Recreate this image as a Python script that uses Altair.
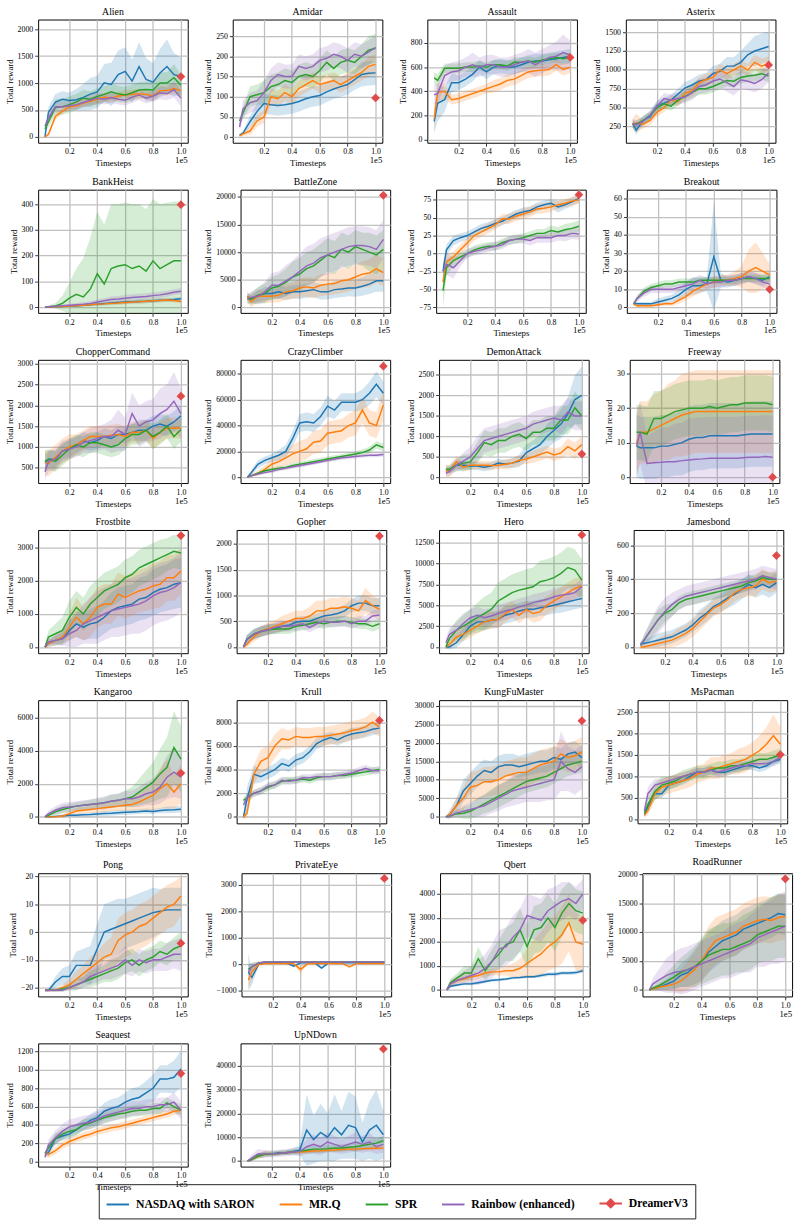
import math
import altair as alt
import pandas as pd

# ---------------- data ----------------
X = [0.025, 0.05, 0.1, 0.15, 0.2, 0.25, 0.3, 0.35, 0.4, 0.45, 0.5,
     0.55, 0.6, 0.65, 0.7, 0.75, 0.8, 0.85, 0.9, 0.95, 1.0]

GAMES = ["Alien", "Amidar", "Assault", "Asterix", "BankHeist", "BattleZone", "Boxing",
         "Breakout", "ChopperCommand", "CrazyClimber", "DemonAttack", "Freeway",
         "Frostbite", "Gopher", "Hero", "Jamesbond", "Kangaroo", "Krull",
         "KungFuMaster", "MsPacman", "Pong", "PrivateEye", "Qbert", "RoadRunner",
         "Seaquest", "UpNDown"]

METHODS = ["NASDAQ with SARON", "MR.Q", "SPR", "Rainbow (enhanced)"]
KEYS = ["nasdaq", "mrq", "spr", "rainbow"]
COLORS = ["#1f77b4", "#ff7f0e", "#2ca02c", "#9467bd"]
DREAMER_NAME = "DreamerV3"
DREAMER_COLOR = "#e04a4a"

DREAMERV3 = [1120, 97, 680, 1065, 398, 20300, 82, 10, 2220, 86000, 570, 0, 3380, 2150,
             13400, 540, 2650, 8150, 25900, 1510, -4, 3250, 2900, 19200, 960, 47000]

Y_LO = [-108, -14, -28, 35, -22, -1018, -83, -3, 129, -4570, -136, -1.7, -190, -121,
        -747, -37, -392, -548, -1750, -91, -23.2, -1224, -274, -1136, -53, -2329]
Y_HI = [2180, 291, 995, 1667, 456, 21320, 89, 65, 3095, 90900, 2867, 34, 3548, 2268,
        13994, 691, 7060, 9863, 31490, 2779, 21.2, 3448, 4863, 20170, 1289, 49315]
Y_STEP = [500, 50, 200, 250, 100, 5000, 25, 10, 500, 20000, 500, 10, 1000, 500,
          2500, 200, 2000, 2000, 5000, 500, 10, 1000, 1000, 5000, 200, 10000]
X_TICKS = [0.2, 0.4, 0.6, 0.8, 1.0]

alien_nasdaq = [0, 460, 645, 700, 675, 690, 735, 795, 837, 1006, 976, 1157, 1217, 1036, 1307, 1066, 1018, 1187, 1307, 1157, 1127]
alien_nasdaq_sd = [20, 100, 150, 150, 150, 200, 250, 300, 300, 350, 400, 450, 450, 400, 450, 400, 350, 450, 500, 400, 350]
alien_mrq = [0, 50, 380, 480, 560, 580, 630, 660, 700, 740, 720, 760, 780, 790, 800, 790, 760, 860, 860, 900, 860]
alien_mrq_sd = [10, 40, 60, 60, 60, 60, 70, 70, 80, 80, 80, 80, 90, 90, 90, 90, 90, 90, 90, 100, 100]
alien_spr = [150, 280, 550, 560, 600, 650, 720, 700, 750, 790, 840, 800, 780, 820, 870, 880, 870, 1000, 1000, 1100, 960]
alien_spr_sd = [50, 100, 150, 150, 150, 150, 150, 150, 150, 150, 150, 150, 150, 150, 150, 150, 150, 200, 200, 250, 200]
alien_rainbow = [200, 350, 560, 560, 580, 600, 640, 680, 720, 700, 730, 700, 680, 740, 780, 720, 760, 820, 800, 880, 720]
alien_rainbow_sd = [50, 80, 100, 100, 100, 100, 100, 100, 100, 100, 100, 100, 100, 100, 100, 100, 100, 120, 120, 150, 150]

amidar_nasdaq = [5, 10, 38, 63, 83, 80, 78, 80, 83, 88, 95, 100, 103, 112, 119, 125, 130, 142, 155, 158, 159]
amidar_nasdaq_sd = [3, 5, 15, 20, 25, 25, 25, 25, 25, 25, 25, 25, 25, 25, 25, 25, 25, 25, 30, 30, 30]
amidar_mrq = [3, 8, 15, 40, 50, 100, 95, 110, 100, 120, 130, 140, 130, 135, 140, 130, 140, 150, 160, 175, 180]
amidar_mrq_sd = [3, 5, 10, 15, 15, 20, 20, 20, 20, 20, 20, 20, 20, 20, 20, 20, 20, 20, 20, 25, 25]
amidar_spr = [40, 60, 100, 105, 110, 125, 130, 140, 135, 150, 155, 150, 165, 185, 170, 185, 190, 185, 200, 215, 220]
amidar_spr_sd = [10, 15, 25, 25, 30, 30, 30, 30, 30, 30, 30, 30, 30, 30, 30, 30, 30, 30, 30, 35, 35]
amidar_rainbow = [25, 70, 85, 90, 110, 140, 155, 150, 150, 175, 170, 175, 190, 195, 205, 200, 190, 205, 200, 210, 222]
amidar_rainbow_sd = [10, 20, 25, 25, 30, 30, 30, 30, 30, 30, 30, 30, 30, 30, 30, 30, 30, 30, 30, 30, 30]

assault_nasdaq = [150, 300, 330, 470, 470, 500, 540, 600, 560, 600, 610, 600, 600, 620, 640, 650, 650, 660, 670, 680, 690]
assault_nasdaq_sd = [100, 150, 100, 80, 60, 60, 60, 60, 60, 60, 60, 60, 60, 60, 60, 60, 60, 60, 60, 60, 60]
assault_mrq = [170, 390, 400, 330, 340, 360, 380, 400, 420, 440, 460, 490, 500, 530, 560, 570, 575, 580, 620, 580, 600]
assault_mrq_sd = [100, 80, 60, 40, 40, 40, 40, 40, 40, 50, 50, 50, 50, 50, 50, 50, 50, 50, 50, 50, 50]
assault_spr = [510, 490, 590, 590, 590, 600, 600, 610, 600, 620, 620, 610, 640, 640, 650, 640, 660, 670, 680, 670, 680]
assault_spr_sd = [50, 50, 40, 40, 40, 40, 40, 40, 40, 40, 40, 40, 40, 40, 40, 40, 40, 40, 40, 40, 40]
assault_rainbow = [370, 380, 530, 560, 570, 600, 620, 600, 620, 620, 600, 600, 620, 640, 650, 620, 650, 680, 690, 720, 700]
assault_rainbow_sd = [80, 80, 80, 80, 80, 80, 100, 80, 80, 80, 80, 80, 80, 80, 100, 100, 100, 100, 120, 150, 120]

asterix_nasdaq = [290, 200, 330, 380, 530, 560, 600, 680, 760, 800, 850, 870, 950, 980, 1050, 1050, 1100, 1200, 1250, 1280, 1310]
asterix_nasdaq_sd = [60, 60, 60, 60, 60, 70, 70, 70, 80, 80, 90, 90, 100, 100, 120, 120, 150, 150, 200, 200, 200]
asterix_mrq = [280, 300, 280, 330, 440, 500, 600, 580, 690, 720, 830, 870, 900, 1000, 950, 1000, 1050, 1000, 1100, 1050, 1080]
asterix_mrq_sd = [80, 120, 60, 60, 60, 60, 60, 60, 70, 70, 70, 80, 80, 80, 80, 80, 80, 80, 100, 100, 100]
asterix_spr = [280, 280, 330, 400, 500, 550, 520, 600, 650, 700, 750, 750, 780, 820, 860, 850, 900, 920, 930, 950, 920]
asterix_spr_sd = [50, 50, 60, 60, 60, 60, 60, 70, 70, 80, 80, 80, 80, 80, 80, 80, 80, 80, 80, 80, 80]
asterix_rainbow = [290, 270, 320, 400, 520, 620, 600, 620, 640, 700, 780, 800, 850, 880, 830, 780, 870, 850, 820, 870, 960]
asterix_rainbow_sd = [60, 60, 60, 60, 70, 70, 80, 80, 80, 100, 100, 100, 120, 120, 120, 120, 120, 120, 120, 120, 120]

bankheist_nasdaq = [0, 1, 2, 3, 5, 6, 8, 10, 12, 14, 16, 18, 20, 21, 22, 23, 25, 27, 28, 30, 33]
bankheist_nasdaq_sd = [1, 1, 2, 3, 3, 4, 5, 5, 6, 6, 6, 7, 7, 7, 8, 8, 8, 8, 8, 8, 8]
bankheist_mrq = [0, 1, 2, 3, 5, 6, 8, 10, 12, 13, 15, 16, 18, 20, 21, 23, 25, 26, 28, 26, 22]
bankheist_mrq_sd = [1, 1, 2, 3, 3, 4, 4, 5, 5, 5, 6, 6, 6, 6, 7, 7, 7, 7, 7, 7, 7]
bankheist_spr = [0, 2, 5, 15, 35, 50, 40, 70, 130, 90, 150, 160, 165, 150, 160, 140, 180, 150, 165, 180, 180]
bankheist_spr_sd = [2, 5, 10, 30, 60, 100, 150, 200, 240, 230, 250, 240, 240, 250, 240, 240, 240, 250, 240, 230, 230]
bankheist_rainbow = [0, 2, 4, 6, 8, 10, 12, 15, 20, 25, 30, 32, 35, 38, 40, 42, 45, 48, 52, 58, 62]
bankheist_rainbow_sd = [1, 2, 3, 4, 5, 6, 7, 8, 10, 10, 12, 12, 12, 12, 12, 12, 12, 12, 12, 12, 12]

battlezone_nasdaq = [2000, 1500, 2000, 2500, 2500, 2800, 2500, 2800, 2800, 3000, 3200, 2800, 2800, 3200, 3300, 3500, 3500, 3800, 4200, 4800, 4800]
battlezone_nasdaq_sd = [500, 800, 1000, 1200, 1200, 1200, 1200, 1200, 1300, 1300, 1400, 1400, 1400, 1500, 1500, 1500, 1600, 1700, 1800, 2000, 2000]
battlezone_mrq = [2000, 1000, 2000, 2000, 2000, 2200, 2800, 3000, 3500, 3700, 3500, 4000, 4200, 4300, 4800, 5000, 5500, 6000, 6200, 7000, 6300]
battlezone_mrq_sd = [1000, 1000, 1200, 1200, 1200, 1300, 1500, 1500, 1700, 1800, 1800, 2000, 2000, 2000, 2200, 2200, 2200, 2400, 2500, 2600, 2500]
battlezone_spr = [1500, 1500, 2200, 2500, 3500, 3800, 4500, 5500, 6000, 7000, 7500, 8500, 9500, 9000, 10500, 10000, 11000, 10500, 10000, 9500, 10500]
battlezone_spr_sd = [800, 1000, 1500, 1800, 2000, 2200, 2500, 2800, 3000, 3000, 3000, 3000, 3000, 3000, 3000, 3000, 3000, 3000, 3500, 3500, 3500]
battlezone_rainbow = [1500, 1800, 2000, 2800, 4000, 4000, 4800, 5500, 6500, 7500, 8000, 9000, 9500, 10000, 10500, 11000, 11200, 11200, 11000, 10500, 12300]
battlezone_rainbow_sd = [800, 1000, 1500, 1800, 2200, 2500, 2800, 3000, 3200, 3500, 3500, 3500, 3500, 3500, 3500, 3500, 3500, 3500, 3500, 3500, 3500]

boxing_nasdaq = [-25, 5, 18, 22, 25, 30, 35, 38, 42, 45, 50, 55, 58, 60, 65, 68, 70, 65, 68, 72, 77]
boxing_nasdaq_sd = [10, 8, 7, 6, 6, 6, 6, 6, 6, 6, 6, 6, 6, 6, 6, 6, 6, 8, 6, 6, 6]
boxing_mrq = [-40, -12, -5, 5, 15, 25, 30, 35, 40, 48, 48, 52, 55, 58, 62, 63, 65, 68, 70, 73, 75]
boxing_mrq_sd = [10, 10, 8, 7, 7, 7, 7, 7, 7, 7, 7, 7, 7, 7, 7, 7, 7, 6, 6, 6, 6]
boxing_spr = [-52, -20, -10, -5, 0, 5, 8, 10, 10, 15, 18, 20, 22, 25, 28, 28, 32, 30, 33, 35, 38]
boxing_spr_sd = [25, 12, 8, 7, 6, 6, 6, 6, 6, 6, 6, 6, 6, 6, 6, 6, 7, 7, 8, 8, 8]
boxing_rainbow = [-25, -15, -20, -10, 0, 3, 5, 8, 10, 12, 18, 20, 20, 18, 22, 22, 22, 25, 25, 28, 27]
boxing_rainbow_sd = [15, 15, 15, 8, 6, 6, 6, 6, 6, 6, 6, 6, 6, 7, 7, 7, 7, 7, 8, 8, 8]

breakout_nasdaq = [2, 2, 2, 2, 3, 4, 5, 7, 10, 12, 12, 13, 28, 15, 14, 15, 16, 17, 16, 15, 17]
breakout_nasdaq_sd = [1, 1, 1, 1, 2, 2, 2, 3, 4, 5, 4, 4, 30, 4, 3, 3, 3, 3, 3, 3, 3]
breakout_mrq = [2, 1, 1, 1, 1.5, 2, 2, 4, 6, 9, 11, 13, 14, 15, 15, 16, 17, 20, 22, 20, 18]
breakout_mrq_sd = [1, 1, 1, 1, 1, 1, 1, 2, 2, 3, 3, 3, 3, 3, 3, 4, 6, 12, 14, 10, 6]
breakout_spr = [2, 5, 9, 11, 12, 13, 13, 14, 14, 14, 15, 15, 15, 15, 15, 15, 16, 16, 16, 16, 16]
breakout_spr_sd = [1, 1, 2, 2, 2, 2, 2, 2, 2, 2, 2, 2, 2, 2, 2, 2, 2, 2, 2, 2, 2]
breakout_rainbow = [2, 5, 8, 10, 10, 10, 10, 11, 12, 13, 15, 13, 14, 14, 15, 15, 16, 17, 16, 14, 13]
breakout_rainbow_sd = [1, 2, 2, 2, 2, 2, 2, 2, 2, 3, 3, 3, 3, 3, 3, 3, 3, 3, 3, 3, 3]

choppercommand_nasdaq = [620, 700, 700, 900, 950, 1050, 1150, 1100, 1150, 1250, 1200, 1300, 1300, 1350, 1400, 1400, 1500, 1550, 1500, 1600, 1750]
choppercommand_nasdaq_sd = [200, 200, 200, 200, 200, 200, 200, 200, 200, 200, 200, 200, 200, 200, 250, 250, 250, 250, 250, 250, 250]
choppercommand_mrq = [620, 600, 750, 900, 1000, 1050, 1150, 1250, 1250, 1250, 1280, 1300, 1250, 1350, 1350, 1400, 1200, 1350, 1450, 1450, 1450]
choppercommand_mrq_sd = [300, 300, 300, 300, 300, 250, 250, 250, 250, 250, 250, 250, 250, 250, 250, 250, 250, 250, 250, 250, 250]
choppercommand_spr = [650, 700, 650, 800, 950, 1050, 1000, 1100, 1100, 1050, 1000, 1050, 1200, 1300, 1300, 1400, 1250, 1350, 1500, 1250, 1420]
choppercommand_spr_sd = [250, 250, 250, 250, 250, 250, 250, 250, 250, 250, 250, 250, 250, 250, 250, 250, 300, 300, 300, 300, 300]
choppercommand_rainbow = [400, 650, 700, 900, 950, 1000, 1100, 1150, 1200, 1250, 1250, 1400, 1300, 1800, 1500, 1600, 1650, 1800, 1900, 2100, 1800]
choppercommand_rainbow_sd = [200, 250, 250, 250, 250, 250, 250, 300, 300, 300, 400, 500, 400, 500, 500, 500, 500, 600, 600, 700, 600]

crazyclimber_nasdaq = [0, 3000, 10000, 13000, 15000, 17000, 20000, 30000, 42000, 43000, 42000, 47000, 55000, 52000, 58000, 58000, 58000, 60000, 65000, 72000, 65000]
crazyclimber_nasdaq_sd = [500, 2000, 3000, 3000, 3000, 4000, 5000, 6000, 7000, 7000, 7000, 7000, 8000, 7000, 7000, 7000, 7000, 8000, 9000, 10000, 9000]
crazyclimber_mrq = [0, 1000, 3000, 6000, 10000, 12000, 15000, 18000, 20000, 22000, 27000, 28000, 34000, 35000, 36000, 40000, 42000, 52000, 42000, 40000, 56000]
crazyclimber_mrq_sd = [500, 1000, 2000, 3000, 4000, 5000, 6000, 7000, 8000, 8000, 9000, 9000, 9000, 9000, 9000, 9000, 10000, 10000, 10000, 10000, 12000]
crazyclimber_spr = [0, 1000, 3000, 5000, 6000, 7000, 7500, 9000, 10000, 11000, 12000, 13000, 14000, 15000, 16000, 17000, 18000, 19000, 21000, 25000, 23000]
crazyclimber_spr_sd = [300, 500, 1000, 1500, 1500, 1500, 1500, 2000, 2000, 2000, 2000, 2000, 2000, 2000, 2000, 2000, 2000, 2500, 2500, 3000, 3000]
crazyclimber_rainbow = [0, 800, 2500, 3500, 4500, 6000, 7000, 8000, 9000, 10000, 11000, 12000, 13000, 14000, 15000, 15500, 16000, 16500, 17000, 17000, 17500]
crazyclimber_rainbow_sd = [300, 500, 1000, 1000, 1500, 1500, 1500, 1500, 1500, 1500, 1500, 1500, 1500, 1500, 1500, 1500, 1500, 1500, 1500, 1500, 1500]

demonattack_nasdaq = [180, 180, 300, 300, 280, 280, 250, 280, 350, 330, 350, 400, 600, 700, 800, 1000, 1150, 1300, 1550, 1900, 2000]
demonattack_nasdaq_sd = [80, 80, 100, 100, 100, 100, 100, 100, 100, 100, 120, 150, 200, 200, 250, 300, 300, 350, 400, 600, 700]
demonattack_mrq = [170, 150, 380, 250, 300, 300, 300, 290, 300, 320, 350, 420, 450, 500, 560, 620, 550, 600, 750, 650, 800]
demonattack_mrq_sd = [150, 150, 150, 100, 100, 100, 100, 100, 100, 120, 120, 120, 120, 150, 150, 150, 150, 150, 200, 200, 200]
demonattack_spr = [200, 200, 300, 350, 380, 600, 850, 800, 900, 900, 1000, 1050, 950, 1100, 1100, 1200, 1200, 1400, 1400, 1700, 1500]
demonattack_spr_sd = [80, 100, 150, 200, 200, 250, 300, 300, 300, 300, 300, 300, 300, 300, 300, 300, 300, 350, 350, 400, 350]
demonattack_rainbow = [100, 150, 300, 400, 500, 700, 900, 950, 1000, 1050, 1100, 1150, 1200, 1300, 1350, 1400, 1450, 1400, 1600, 1500, 1500]
demonattack_rainbow_sd = [80, 100, 150, 200, 250, 300, 300, 300, 300, 300, 300, 300, 300, 300, 300, 300, 300, 350, 350, 350, 350]

freeway_nasdaq = [9, 8.5, 8.5, 8.5, 9, 9, 9.5, 10, 11, 11.5, 11.5, 12, 12, 12, 12, 12, 12.3, 12.5, 12.5, 12.5, 12.5]
freeway_nasdaq_sd = [9, 9, 9, 9, 9, 9, 9, 9.5, 9.5, 9.5, 9.5, 9.5, 9.5, 9.5, 9.5, 9.5, 9.5, 9.5, 9.5, 9.5, 9.5]
freeway_mrq = [10, 13, 13, 14, 15, 16, 17, 18, 18.5, 19, 19, 19, 19, 19, 19, 19, 19, 19, 19, 19, 19]
freeway_mrq_sd = [9, 9, 9, 10, 10, 11, 11, 12, 12, 12, 12, 12, 12, 12, 12, 12, 12, 12, 12, 12, 12]
freeway_spr = [13, 13, 12.5, 17, 17, 18, 19, 19.5, 20, 20, 20, 20.5, 20, 20.5, 21, 21, 21.5, 21.5, 21.5, 21.5, 21]
freeway_spr_sd = [8, 8, 8, 8, 8, 8, 8, 8, 8, 8, 8, 8, 8, 8, 8, 8, 8, 8, 8, 8, 8]
freeway_rainbow = [9, 13, 4, 4.2, 4.3, 4.5, 4.5, 4.8, 5, 5.2, 5.3, 5.5, 5.5, 5.5, 5.5, 5.5, 5.7, 5.8, 5.8, 6, 5.8]
freeway_rainbow_sd = [9, 9, 8, 9, 10, 10, 11, 11, 12, 12, 12, 12, 12, 12, 12, 12, 12, 12, 12, 12, 12]

frostbite_nasdaq = [0, 100, 200, 250, 500, 700, 600, 700, 750, 900, 1100, 1200, 1250, 1300, 1450, 1500, 1650, 1750, 1800, 1900, 1950]
frostbite_nasdaq_sd = [50, 100, 150, 200, 300, 400, 400, 450, 500, 500, 550, 600, 600, 600, 650, 650, 700, 700, 700, 750, 750]
frostbite_mrq = [0, 100, 200, 300, 600, 900, 700, 900, 1200, 1300, 1300, 1600, 1500, 1600, 1700, 1750, 1850, 1900, 2100, 2100, 2300]
frostbite_mrq_sd = [50, 100, 150, 200, 400, 600, 500, 600, 600, 600, 600, 650, 650, 650, 650, 650, 700, 700, 700, 700, 700]
frostbite_spr = [0, 300, 400, 500, 900, 1200, 1000, 1300, 1500, 1700, 1800, 1900, 2100, 2200, 2400, 2500, 2600, 2700, 2800, 2900, 2850]
frostbite_spr_sd = [50, 200, 300, 400, 500, 500, 500, 550, 550, 550, 550, 550, 550, 550, 550, 550, 550, 550, 500, 500, 500]
frostbite_rainbow = [0, 150, 200, 250, 400, 500, 700, 800, 900, 1000, 1100, 1150, 1200, 1250, 1300, 1400, 1550, 1650, 1700, 1800, 1950]
frostbite_rainbow_sd = [50, 100, 150, 200, 400, 500, 600, 700, 800, 800, 800, 850, 850, 850, 900, 900, 900, 900, 900, 900, 900]

gopher_nasdaq = [0, 150, 250, 300, 350, 350, 400, 420, 480, 500, 500, 550, 600, 620, 650, 700, 800, 850, 850, 800, 800]
gopher_nasdaq_sd = [30, 80, 100, 100, 100, 100, 100, 100, 100, 100, 100, 100, 100, 100, 120, 120, 120, 150, 150, 150, 150]
gopher_mrq = [0, 50, 200, 300, 350, 400, 450, 500, 550, 550, 600, 700, 700, 750, 750, 780, 750, 700, 900, 800, 730]
gopher_mrq_sd = [30, 50, 100, 100, 120, 120, 150, 150, 150, 150, 180, 200, 200, 200, 200, 200, 200, 200, 250, 200, 200]
gopher_spr = [0, 150, 250, 300, 330, 350, 350, 350, 400, 420, 450, 480, 450, 480, 500, 500, 480, 450, 450, 400, 450]
gopher_spr_sd = [30, 80, 100, 100, 100, 100, 100, 100, 100, 100, 100, 100, 100, 100, 100, 100, 100, 100, 100, 100, 100]
gopher_rainbow = [0, 150, 250, 300, 330, 380, 400, 400, 420, 450, 380, 450, 500, 480, 480, 500, 450, 500, 500, 600, 620]
gopher_rainbow_sd = [30, 80, 100, 100, 100, 100, 100, 100, 100, 100, 100, 100, 100, 100, 100, 100, 100, 100, 100, 100, 100]

hero_nasdaq = [0, 0, 500, 1500, 2500, 3000, 3000, 3200, 3300, 3800, 4000, 4300, 4500, 4500, 4700, 4800, 5000, 5200, 5400, 5600, 5800]
hero_nasdaq_sd = [200, 300, 600, 800, 900, 900, 1000, 1000, 1000, 1000, 1000, 1000, 1000, 1000, 1000, 1000, 1000, 1100, 1100, 1100, 1100]
hero_mrq = [0, 300, 1200, 1500, 2000, 2500, 3000, 3200, 3300, 4000, 4500, 3800, 4500, 4000, 4200, 5000, 5500, 6000, 6500, 7000, 7300]
hero_mrq_sd = [200, 400, 800, 800, 900, 900, 1000, 1000, 1000, 1000, 1000, 1000, 1000, 1100, 1100, 1100, 1100, 1100, 1200, 1200, 1200]
hero_spr = [0, 1000, 2000, 2500, 3000, 3500, 4000, 4500, 5500, 6000, 6500, 6800, 7000, 7200, 7800, 8000, 8300, 8800, 9500, 9200, 8000]
hero_spr_sd = [300, 800, 1200, 1500, 1500, 1800, 2000, 2000, 2200, 2200, 2200, 2200, 2300, 2300, 2500, 2500, 2500, 2500, 2500, 2500, 2500]
hero_rainbow = [500, 1500, 2000, 2800, 3500, 3800, 3500, 3700, 4000, 4300, 4500, 4800, 5000, 5300, 5500, 5700, 6000, 6200, 6300, 6500, 7200]
hero_rainbow_sd = [500, 800, 1000, 1000, 1000, 1000, 1000, 1000, 1000, 1000, 1000, 1000, 1000, 1000, 1000, 1000, 1000, 1000, 1000, 1000, 1000]

jamesbond_nasdaq = [20, 20, 30, 40, 50, 60, 80, 100, 130, 170, 200, 240, 260, 290, 310, 340, 370, 350, 370, 350, 380]
jamesbond_nasdaq_sd = [15, 20, 30, 40, 40, 40, 40, 40, 40, 50, 50, 50, 50, 60, 60, 60, 60, 60, 60, 60, 60]
jamesbond_mrq = [0, 0, 10, 20, 30, 40, 60, 80, 110, 150, 190, 230, 250, 280, 320, 340, 350, 360, 400, 380, 390]
jamesbond_mrq_sd = [10, 10, 20, 30, 40, 40, 50, 50, 50, 50, 50, 50, 50, 50, 50, 50, 50, 60, 60, 60, 60]
jamesbond_spr = [10, 40, 100, 160, 200, 220, 260, 280, 290, 300, 310, 320, 330, 340, 350, 360, 380, 390, 410, 400, 400]
jamesbond_spr_sd = [10, 30, 50, 60, 50, 40, 40, 40, 40, 40, 40, 40, 40, 40, 40, 40, 40, 40, 40, 40, 40]
jamesbond_rainbow = [10, 40, 100, 160, 210, 250, 280, 300, 310, 320, 330, 340, 350, 360, 370, 380, 390, 400, 420, 410, 400]
jamesbond_rainbow_sd = [10, 30, 60, 80, 80, 70, 60, 60, 60, 60, 60, 60, 60, 60, 60, 60, 60, 60, 60, 60, 60]

kangaroo_nasdaq = [50, 0, 30, 60, 100, 100, 130, 150, 180, 200, 220, 250, 280, 300, 320, 350, 330, 380, 420, 430, 460]
kangaroo_nasdaq_sd = [50, 50, 50, 80, 100, 100, 100, 120, 120, 150, 150, 150, 150, 150, 150, 150, 150, 150, 200, 200, 200]
kangaroo_mrq = [0, 0, 0, 50, 200, 350, 400, 450, 500, 550, 600, 650, 700, 750, 900, 1100, 1300, 1700, 2000, 1500, 2000]
kangaroo_mrq_sd = [50, 50, 50, 100, 150, 200, 200, 200, 250, 250, 250, 300, 300, 400, 500, 700, 900, 1200, 1500, 1000, 1200]
kangaroo_spr = [0, 100, 300, 450, 550, 650, 700, 750, 800, 850, 950, 1000, 1100, 1200, 1500, 1800, 2100, 2600, 3000, 4200, 3500]
kangaroo_spr_sd = [50, 100, 200, 250, 250, 250, 250, 300, 300, 300, 400, 400, 500, 600, 800, 1000, 1200, 1500, 1800, 2200, 2000]
kangaroo_rainbow = [0, 200, 400, 550, 600, 650, 700, 750, 800, 850, 950, 1000, 1100, 1100, 1200, 1400, 1500, 1800, 2400, 2700, 2400]
kangaroo_rainbow_sd = [50, 150, 250, 300, 300, 300, 300, 300, 350, 400, 400, 400, 450, 500, 600, 700, 800, 1000, 1300, 1500, 1300]

krull_nasdaq = [0, 1500, 3600, 3400, 3700, 4000, 4500, 4300, 4800, 5000, 5500, 6200, 6500, 6700, 6500, 6800, 7000, 7100, 7200, 7400, 7500]
krull_nasdaq_sd = [200, 1000, 800, 500, 500, 500, 500, 500, 500, 500, 500, 500, 500, 500, 500, 500, 500, 500, 500, 500, 500]
krull_mrq = [0, 300, 3600, 4700, 5000, 6000, 6600, 6500, 6800, 6700, 6700, 6800, 6800, 6900, 7000, 7100, 7300, 7400, 7600, 8000, 7600]
krull_mrq_sd = [200, 400, 800, 1000, 1000, 1000, 900, 800, 800, 800, 800, 800, 800, 800, 800, 800, 800, 800, 800, 900, 800]
krull_spr = [1400, 1600, 2000, 2200, 2500, 2700, 3000, 3100, 3100, 3200, 3100, 3300, 3400, 3400, 3500, 3500, 3600, 3700, 3800, 3900, 4000]
krull_spr_sd = [300, 300, 300, 300, 300, 300, 300, 300, 300, 300, 300, 300, 300, 300, 300, 300, 300, 300, 300, 300, 300]
krull_rainbow = [1000, 1600, 2000, 2200, 2600, 2700, 3100, 3000, 3100, 3300, 3300, 3400, 3400, 3400, 3500, 3600, 3700, 3900, 4100, 3900, 3900]
krull_rainbow_sd = [300, 300, 300, 300, 300, 300, 300, 300, 300, 300, 300, 300, 300, 300, 300, 300, 300, 300, 300, 300, 300]

kungfumaster_nasdaq = [0, 500, 3000, 7000, 9000, 11000, 12500, 12000, 13500, 14000, 14000, 13500, 14000, 14500, 15000, 15000, 16000, 15500, 17000, 17500, 16000]
kungfumaster_nasdaq_sd = [300, 1000, 2000, 3000, 3000, 3000, 3000, 3000, 3000, 3000, 3000, 3000, 3000, 3000, 3000, 3000, 3000, 3000, 3000, 3000, 3000]
kungfumaster_mrq = [0, 500, 3000, 5000, 8000, 8500, 9500, 9500, 10000, 11000, 11500, 12000, 12000, 13000, 14000, 14500, 15000, 17000, 16000, 16500, 17500]
kungfumaster_mrq_sd = [300, 1000, 2000, 3000, 4000, 4000, 4000, 4000, 4000, 4000, 4000, 4000, 4000, 4000, 4000, 4000, 4000, 4000, 4000, 4000, 4000]
kungfumaster_spr = [0, 200, 800, 1000, 1500, 2500, 3500, 4500, 5500, 6500, 7500, 8500, 9500, 10000, 10500, 11000, 12000, 13000, 14000, 14500, 15000]
kungfumaster_spr_sd = [200, 500, 1000, 1500, 2000, 2500, 2500, 3000, 3000, 3000, 3000, 3000, 3000, 3000, 3000, 3000, 3000, 3000, 3000, 3000, 3000]
kungfumaster_rainbow = [0, 200, 1000, 1500, 2000, 2500, 3000, 4000, 5000, 6000, 7000, 7500, 8000, 8500, 9000, 9500, 10000, 15000, 13000, 12000, 13500]
kungfumaster_rainbow_sd = [200, 500, 1000, 1500, 2000, 2500, 3000, 3000, 3500, 3500, 4000, 4000, 4000, 4500, 5000, 5000, 5500, 8000, 6000, 6000, 6000]

mspacman_nasdaq = [100, 300, 600, 600, 800, 850, 900, 1000, 1100, 1100, 1150, 1100, 1100, 1150, 1200, 1250, 1250, 1200, 1250, 1350, 1400]
mspacman_nasdaq_sd = [50, 80, 100, 100, 100, 100, 100, 100, 100, 100, 100, 100, 100, 100, 100, 100, 100, 100, 100, 100, 100]
mspacman_mrq = [100, 200, 600, 750, 800, 850, 900, 950, 1050, 1100, 1200, 1200, 1250, 1300, 1350, 1400, 1500, 1600, 1750, 1950, 1750]
mspacman_mrq_sd = [50, 100, 150, 200, 200, 200, 200, 200, 200, 200, 250, 250, 250, 250, 300, 300, 300, 350, 400, 500, 400]
mspacman_spr = [150, 350, 650, 800, 850, 900, 1000, 1050, 1100, 1100, 1150, 1200, 1200, 1250, 1250, 1300, 1350, 1400, 1400, 1450, 1500]
mspacman_spr_sd = [50, 150, 200, 200, 150, 150, 150, 150, 150, 150, 150, 150, 150, 150, 150, 150, 150, 150, 150, 150, 150]
mspacman_rainbow = [200, 600, 800, 850, 900, 950, 1000, 1050, 1100, 1100, 1150, 1100, 1150, 1200, 1250, 1250, 1300, 1300, 1300, 1350, 1450]
mspacman_rainbow_sd = [100, 150, 150, 100, 100, 100, 100, 100, 100, 100, 100, 100, 100, 100, 100, 100, 100, 100, 100, 100, 100]

pong_nasdaq = [-21, -21, -18, -16, -16, -12, -12, -12, -6, 0, 1, 2, 3, 4, 5, 6, 7, 7.5, 8, 8, 8]
pong_nasdaq_sd = [0.5, 0.5, 2, 3, 4, 5, 6, 7, 9, 10, 10, 10, 9, 9, 9, 9, 9, 8, 8, 8, 8]
pong_mrq = [-21, -21, -21, -20, -19, -17, -15, -13, -11, -9, -8, -3, -1, 0, 2, 3, 5, 7, 9, 10, 13]
pong_mrq_sd = [0.5, 0.5, 0.5, 1, 2, 3, 3, 4, 4, 5, 6, 8, 8, 8, 8, 8, 8, 8, 8, 8, 7]
pong_spr = [-21, -21, -21, -20.5, -20, -19, -18, -17, -16, -15, -14, -13, -11, -10, -12, -10, -9, -7, -8, -6, -5]
pong_spr_sd = [0.5, 0.5, 0.5, 1, 1, 2, 2, 3, 3, 3, 4, 4, 4, 4, 4, 4, 4, 4, 4, 4, 5]
pong_rainbow = [-21, -21, -21, -21, -20, -19, -18, -16, -15, -14, -13, -12, -10, -12, -10, -11, -10, -10, -9, -8, -8]
pong_rainbow_sd = [0.5, 0.5, 0.5, 0.5, 1, 2, 2, 3, 3, 3, 4, 4, 5, 4, 4, 4, 4, 4, 5, 5, 6]

privateeye_nasdaq = [-300, -500, 0, 50, 50, 50, 40, -80, 50, 50, 50, -150, 50, 50, 50, 50, 50, 50, 50, 50, 50]
privateeye_nasdaq_sd = [700, 300, 50, 30, 30, 30, 30, 50, 30, 30, 30, 50, 30, 30, 30, 30, 30, 30, 30, 30, 30]
privateeye_mrq = [-600, -300, 0, 20, 20, 20, 20, 20, -200, 20, 20, 20, 20, 20, 20, -100, 20, 20, 20, 20, 20]
privateeye_mrq_sd = [300, 300, 50, 30, 30, 30, 30, 30, 150, 30, 30, 30, 30, 30, 30, 60, 30, 30, 30, 30, 30]
privateeye_spr = [-200, -100, 50, 80, 80, 80, 80, 80, 80, 80, 80, 80, 80, 80, 80, 80, 80, 80, 80, 80, 80]
privateeye_spr_sd = [200, 150, 50, 40, 40, 40, 40, 40, 40, 40, 40, 40, 40, 40, 40, 40, 40, 40, 40, 40, 40]
privateeye_rainbow = [-300, -100, 50, 80, 80, 80, 80, 80, 80, 80, 80, 80, 80, 80, 80, 80, 80, 80, 80, 80, 80]
privateeye_rainbow_sd = [300, 150, 50, 40, 40, 40, 40, 40, 40, 40, 40, 40, 40, 40, 40, 40, 40, 40, 40, 40, 40]

qbert_nasdaq = [0, 150, 200, 250, 250, 300, 350, 400, 420, 450, 500, 520, 550, 550, 600, 650, 650, 700, 700, 720, 800]
qbert_nasdaq_sd = [20, 50, 60, 60, 60, 60, 60, 60, 60, 60, 60, 60, 60, 60, 80, 80, 80, 80, 80, 80, 80]
qbert_mrq = [0, 250, 400, 450, 550, 600, 700, 750, 750, 800, 800, 900, 1100, 1300, 1500, 1800, 2000, 2300, 2800, 2000, 1900]
qbert_mrq_sd = [50, 100, 150, 150, 150, 150, 150, 150, 150, 200, 300, 400, 600, 800, 900, 1000, 1100, 1200, 1200, 1200, 1200]
qbert_spr = [0, 300, 500, 700, 700, 1300, 800, 1200, 1500, 1900, 2000, 2500, 1800, 2500, 2600, 3000, 2600, 3200, 3600, 3300, 3200]
qbert_spr_sd = [50, 150, 200, 300, 300, 500, 400, 500, 600, 700, 800, 900, 900, 1000, 1000, 1000, 1000, 1000, 900, 900, 900]
qbert_rainbow = [0, 250, 400, 500, 600, 700, 900, 1200, 1700, 1800, 2200, 2500, 3100, 3000, 2900, 3300, 3500, 3700, 3800, 3600, 4000]
qbert_rainbow_sd = [50, 150, 200, 300, 400, 500, 600, 700, 800, 800, 900, 900, 900, 900, 900, 900, 800, 800, 700, 700, 600]

roadrunner_nasdaq = [0, 200, 500, 1000, 1500, 2500, 3000, 4000, 5000, 6500, 7500, 8500, 9000, 9500, 10500, 11000, 11500, 12000, 12500, 13200, 13000]
roadrunner_nasdaq_sd = [100, 300, 600, 1000, 1500, 2000, 2500, 3000, 3500, 3500, 3500, 3500, 3500, 3500, 3500, 3500, 3500, 3500, 3500, 3500, 3500]
roadrunner_mrq = [0, 200, 500, 700, 1000, 1500, 2500, 3500, 5000, 7000, 8500, 9000, 9500, 10000, 11000, 11500, 12000, 12200, 12000, 12500, 12700]
roadrunner_mrq_sd = [100, 300, 500, 800, 1200, 2000, 2500, 3000, 3500, 4000, 4000, 4000, 4000, 4000, 4000, 4000, 4000, 4000, 4000, 4000, 4000]
roadrunner_spr = [0, 300, 800, 1500, 2200, 3000, 3500, 4000, 5000, 6000, 6500, 7000, 7000, 7500, 8000, 8500, 9500, 10000, 10500, 11000, 11000]
roadrunner_spr_sd = [100, 300, 800, 1500, 2000, 2500, 3000, 3500, 4000, 4500, 4500, 4500, 4500, 4500, 5000, 5000, 5000, 5000, 5500, 5500, 5500]
roadrunner_rainbow = [0, 1000, 1800, 2500, 3000, 3200, 3500, 4000, 4500, 5000, 5500, 6000, 6500, 7000, 7500, 8000, 9000, 9500, 10000, 10500, 11000]
roadrunner_rainbow_sd = [200, 1000, 2000, 3000, 3500, 4000, 4000, 4000, 4000, 4000, 4000, 4000, 4500, 4500, 4500, 5000, 5000, 5500, 5500, 6000, 6000]

seaquest_nasdaq = [80, 100, 250, 280, 300, 350, 400, 450, 480, 550, 580, 600, 650, 680, 700, 750, 800, 900, 900, 920, 1010]
seaquest_nasdaq_sd = [20, 40, 50, 50, 50, 60, 60, 70, 80, 90, 100, 100, 100, 120, 120, 130, 150, 150, 150, 180, 200]
seaquest_mrq = [100, 80, 120, 180, 220, 250, 280, 300, 330, 350, 370, 380, 400, 420, 440, 460, 480, 500, 520, 550, 560]
seaquest_mrq_sd = [30, 40, 40, 40, 40, 40, 40, 40, 40, 40, 40, 40, 40, 40, 40, 40, 40, 40, 40, 40, 40]
seaquest_spr = [90, 150, 250, 300, 330, 350, 400, 420, 450, 480, 500, 520, 530, 550, 560, 560, 580, 580, 640, 600, 560]
seaquest_spr_sd = [30, 50, 60, 60, 60, 60, 60, 60, 60, 60, 60, 60, 60, 60, 60, 60, 60, 60, 60, 60, 60]
seaquest_rainbow = [50, 180, 260, 330, 380, 400, 420, 430, 460, 500, 520, 540, 560, 580, 580, 600, 600, 620, 620, 650, 560]
seaquest_rainbow_sd = [30, 60, 80, 80, 80, 80, 80, 80, 80, 80, 80, 80, 80, 80, 80, 80, 80, 80, 80, 100, 100]

upndown_nasdaq = [0, 500, 2500, 3000, 3000, 3500, 3500, 4000, 4500, 13000, 9000, 12000, 10000, 14000, 11000, 15000, 14000, 8000, 13000, 15000, 11000]
upndown_nasdaq_sd = [200, 500, 1000, 1000, 1000, 1000, 1000, 1500, 2000, 15000, 10000, 12000, 10000, 14000, 10000, 14000, 13000, 8000, 12000, 15000, 10000]
upndown_mrq = [0, 500, 2000, 3000, 3000, 3200, 3500, 3700, 3800, 4000, 4200, 4300, 4500, 4600, 4800, 5000, 5000, 5200, 5300, 5400, 5500]
upndown_mrq_sd = [200, 500, 800, 1500, 800, 800, 800, 800, 800, 800, 800, 800, 800, 800, 800, 800, 800, 800, 800, 800, 800]
upndown_spr = [0, 500, 2000, 2800, 3000, 3200, 3500, 3800, 4200, 4500, 5000, 5000, 5200, 5500, 5500, 5800, 6000, 6500, 7000, 7500, 8500]
upndown_spr_sd = [200, 500, 1000, 1000, 1000, 1000, 1000, 1000, 1000, 1200, 1500, 1500, 1500, 1500, 1500, 1500, 2000, 2000, 2000, 2000, 2000]
upndown_rainbow = [0, 1000, 3000, 3000, 3000, 3200, 3500, 3800, 4000, 6000, 7000, 6000, 8000, 7000, 6000, 7000, 8000, 7000, 8000, 6000, 7000]
upndown_rainbow_sd = [200, 1500, 2000, 1500, 1500, 1500, 1500, 1500, 2000, 3000, 4000, 3500, 4000, 3500, 3000, 3500, 4000, 3500, 4000, 3000, 3500]

# ---------------- styling / layout ----------------
FONT = "Liberation Serif"
W, H = 153, 126
HSP, VSP = 15, 8
X_DOMAIN = [-0.024, 1.049]

LEGEND_ITEMS = METHODS + [DREAMER_NAME]
LEGEND_STROKES = COLORS + [DREAMER_COLOR]
LEGEND_FILLS = ["transparent"] * 4 + [DREAMER_COLOR]
LEGEND_SHAPES = ["M-1,0L1,0"] * 4 + ["M-1,0L1,0M0,-0.36L0.36,0L0,0.36L-0.36,0Z"]

AXIS_STYLE = dict(labelFont=FONT, titleFont=FONT, labelFontSize=8, titleFontSize=9,
                  titleFontWeight="normal", labelColor="#000", titleColor="#000",
                  tickColor="#000", tickSize=3.5, tickWidth=0.8, labelPadding=2,
                  titlePadding=3, domain=False, grid=True, gridColor="#c0c0c0",
                  gridWidth=1.3, labelOverlap=False)


def series_table(game):
    key = game.lower()
    rows = []
    for order, (k, m, c) in enumerate(zip(KEYS, METHODS, COLORS)):
        mean = globals()[f"{key}_{k}"]
        sd = globals()[f"{key}_{k}_sd"]
        for t, v, s in zip(X, mean, sd):
            rows.append({"t": t, "v": v, "lo": v - s, "hi": v + s,
                         "method": m, "color": c, "order": order})
    return pd.DataFrame(rows)


def panel(idx, game, with_legend=False):
    df = series_table(game)
    lo, hi, step = Y_LO[idx], Y_HI[idx], Y_STEP[idx]
    first = math.ceil(lo / step) * step
    ticks = []
    t = first
    while t <= hi:
        ticks.append(t)
        t += step
    xs = alt.Scale(domain=X_DOMAIN, nice=False, zero=False)
    ys = alt.Scale(domain=[lo, hi], nice=False, zero=False)
    xax = alt.Axis(values=X_TICKS, tickCount=len(X_TICKS) + 1, format=".1f",
                   title="Timesteps", **AXIS_STYLE)
    yax = alt.Axis(values=ticks, tickCount=len(ticks) + 1, format="d",
                   title="Total reward", **AXIS_STYLE)

    base = alt.Chart(df)
    band = base.mark_area(fillOpacity=0.2, clip=True).encode(
        x=alt.X("t:Q", scale=xs, axis=xax),
        y=alt.Y("lo:Q", scale=ys, axis=yax),
        y2="hi:Q",
        color=alt.Color("color:N", scale=None),
    )
    line = base.mark_line(strokeWidth=1.5, clip=True).encode(
        x=alt.X("t:Q"),
        y=alt.Y("v:Q"),
        color=alt.Color("color:N", scale=None),
    )
    dream = alt.Chart(pd.DataFrame({"t": [X[-1]], "v": [DREAMERV3[idx]]})).mark_point(
        shape="diamond", filled=True, size=80, color=DREAMER_COLOR, opacity=1
    ).encode(x="t:Q", y="v:Q")
    offs = alt.Chart(pd.DataFrame({"s": ["1e5"]})).mark_text(
        align="right", baseline="top", font=FONT, fontSize=9, color="#000"
    ).encode(x=alt.value(W), y=alt.value(H + 14), text="s:N")
    layers = [band, line, dream, offs]
    if with_legend:
        leg = alt.Legend(title=None, orient="none", legendX=62, legendY=1191,
                         direction="horizontal", columns=5, symbolSize=529,
                         symbolStrokeWidth=2, labelFont=FONT, labelFontSize=12,
                         labelFontWeight="bold", labelColor="#000", labelOffset=6,
                         columnPadding=21, padding=7, strokeColor="#222",
                         symbolOpacity=1, labelLimit=400)
        empty = pd.DataFrame({"method": pd.Series([], dtype=str),
                              "t": pd.Series([], dtype=float),
                              "v": pd.Series([], dtype=float)})
        key_layer = alt.Chart(empty).mark_point(filled=False).encode(
            x="t:Q", y="v:Q",
            stroke=alt.Stroke("method:N", scale=alt.Scale(domain=LEGEND_ITEMS, range=LEGEND_STROKES), legend=leg),
            fill=alt.Fill("method:N", scale=alt.Scale(domain=LEGEND_ITEMS, range=LEGEND_FILLS), legend=leg),
            shape=alt.Shape("method:N", scale=alt.Scale(domain=LEGEND_ITEMS, range=LEGEND_SHAPES), legend=leg),
        )
        layers.append(key_layer)
    title = alt.TitleParams(text=game, font=FONT, fontSize=10, fontWeight="normal",
                            color="#000", offset=3)
    return alt.layer(*layers).properties(width=W, height=H, title=title)


panels = [panel(i, g, with_legend=(g == GAMES[-1])) for i, g in enumerate(GAMES)]
rows = [alt.hconcat(*panels[i:i + 4], spacing=HSP) for i in range(0, len(panels), 4)]

chart = alt.vconcat(*rows, spacing=VSP).properties(
    padding={"left": 5, "top": -8, "right": 3, "bottom": 3}
).configure_view(
    stroke="#000", strokeWidth=1
).configure_axis(
    **AXIS_STYLE
).configure_title(
    font=FONT, fontSize=10, fontWeight="normal", offset=3, color="#000"
)

chart.save("out.html", embed_options={"renderer": "svg", "actions": False})
